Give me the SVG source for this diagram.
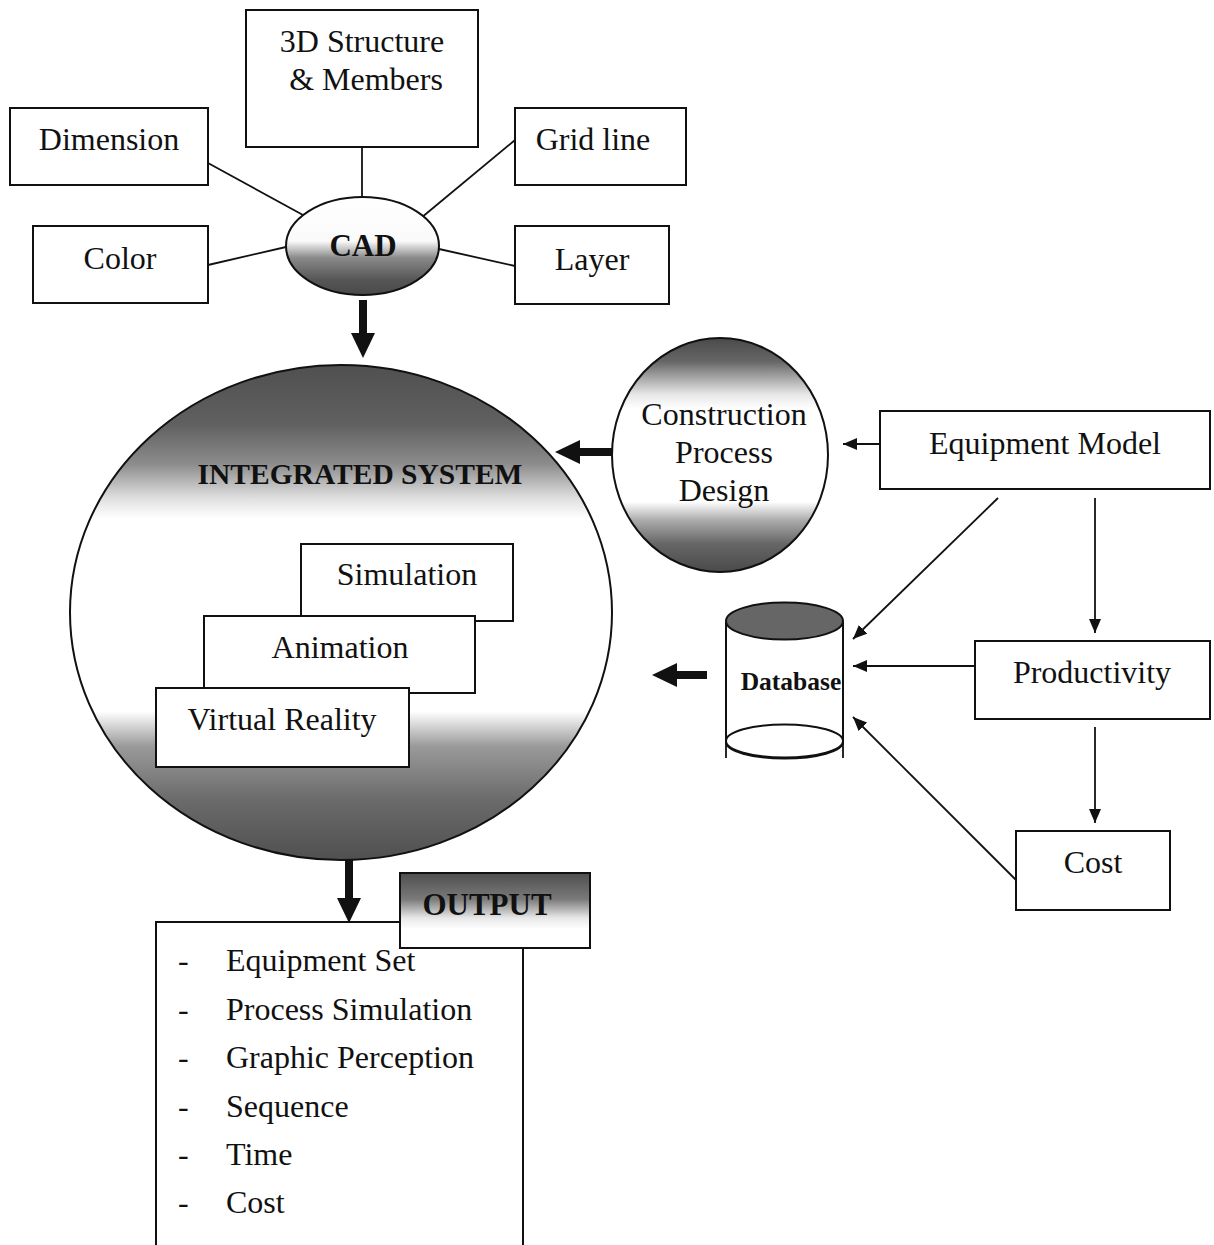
<svg xmlns="http://www.w3.org/2000/svg" width="1214" height="1245" viewBox="0 0 1214 1245">
<defs>
<linearGradient id="gCad" x1="0" y1="0" x2="0" y2="1">
<stop offset="0" stop-color="#fff"/><stop offset="0.45" stop-color="#fafafa"/><stop offset="0.62" stop-color="#8a8a8a"/><stop offset="0.85" stop-color="#555"/><stop offset="1" stop-color="#4a4a4a"/>
</linearGradient>
<linearGradient id="gInt" x1="0" y1="0" x2="0" y2="1">
<stop offset="0" stop-color="#505050"/><stop offset="0.12" stop-color="#606060"/><stop offset="0.2" stop-color="#8c8c8c"/><stop offset="0.27" stop-color="#e0e0e0"/><stop offset="0.31" stop-color="#fff"/><stop offset="0.7" stop-color="#fff"/><stop offset="0.77" stop-color="#9a9a9a"/><stop offset="0.88" stop-color="#6a6a6a"/><stop offset="1" stop-color="#505050"/>
</linearGradient>
<linearGradient id="gCpd" x1="0" y1="0" x2="0" y2="1">
<stop offset="0" stop-color="#4a4a4a"/><stop offset="0.1" stop-color="#666"/><stop offset="0.24" stop-color="#e6e6e6"/><stop offset="0.3" stop-color="#fff"/><stop offset="0.7" stop-color="#fff"/><stop offset="0.78" stop-color="#aaa"/><stop offset="0.88" stop-color="#666"/><stop offset="1" stop-color="#4a4a4a"/>
</linearGradient>
<linearGradient id="gOut" x1="0" y1="0" x2="0" y2="1">
<stop offset="0" stop-color="#4e4e4e"/><stop offset="0.35" stop-color="#7a7a7a"/><stop offset="0.6" stop-color="#e8e8e8"/><stop offset="0.75" stop-color="#fff"/><stop offset="1" stop-color="#fff"/>
</linearGradient>
<marker id="thick" markerUnits="userSpaceOnUse" viewBox="0 0 25 24" refX="0" refY="12" markerWidth="25" markerHeight="24" orient="auto">
<path d="M0,0 L25,12 L0,24 Z" fill="#111"/>
</marker>
<marker id="thin" markerUnits="userSpaceOnUse" viewBox="0 0 14 12" refX="14" refY="6" markerWidth="14" markerHeight="12" orient="auto">
<path d="M0,0 L14,6 L0,12 Z" fill="#111"/>
</marker>
<style>
.box{fill:#fff;stroke:#111;stroke-width:2}
.t{font-family:"Liberation Serif","Times New Roman",serif;font-size:32px;fill:#111;text-anchor:middle}
.b{font-family:"Liberation Serif","Times New Roman",serif;font-weight:bold;fill:#111;text-anchor:middle}
.l{font-family:"Liberation Serif","Times New Roman",serif;font-size:32px;fill:#111}
.ln{stroke:#111;stroke-width:1.8;fill:none}
.th{stroke:#111;stroke-width:8;fill:none;marker-end:url(#thick)}
.ar{stroke:#111;stroke-width:1.8;fill:none;marker-end:url(#thin)}
</style>
</defs>
<rect width="1214" height="1245" fill="#fff"/>

<g id="connectors">
<line class="ln" x1="362" y1="147" x2="362" y2="197"/>
<line class="ln" x1="208" y1="163" x2="303" y2="215"/>
<line class="ln" x1="515" y1="140" x2="421" y2="218"/>
<line class="ln" x1="208" y1="265" x2="286" y2="247"/>
<line class="ln" x1="439" y1="249" x2="515" y2="266"/>
<line class="th" x1="363" y1="300" x2="363" y2="333"/>
<line class="th" x1="612" y1="452" x2="580" y2="452"/>
<line class="th" x1="707" y1="675" x2="677" y2="675"/>
<line class="th" x1="349" y1="848" x2="349" y2="898"/>
<line class="ar" x1="880" y1="444" x2="843" y2="444"/>
<line class="ar" x1="998" y1="498" x2="853" y2="639"/>
<line class="ar" x1="1095" y1="498" x2="1095" y2="633"/>
<line class="ar" x1="975" y1="666" x2="853" y2="666"/>
<line class="ar" x1="1095" y1="727" x2="1095" y2="823"/>
<line class="ar" x1="1016" y1="880" x2="853" y2="717"/>
</g>

<g id="n3d"><rect class="box" x="246" y="10" width="232" height="137"/>
<text class="t" x="362" y="52">3D Structure</text><text class="t" x="366" y="90">&amp; Members</text></g>
<g id="nDimension"><rect class="box" x="10" y="108" width="198" height="77"/><text class="t" x="109" y="150">Dimension</text></g>
<g id="nGrid"><rect class="box" x="515" y="108" width="171" height="77"/><text class="t" x="593" y="150">Grid line</text></g>
<g id="nColor"><rect class="box" x="33" y="226" width="175" height="77"/><text class="t" x="120" y="269">Color</text></g>
<g id="nLayer"><rect class="box" x="515" y="226" width="154" height="78"/><text class="t" x="592" y="270">Layer</text></g>
<g id="nCAD"><ellipse cx="362.5" cy="246" rx="76.5" ry="49" fill="url(#gCad)" stroke="#111" stroke-width="2"/>
<text class="b" x="363" y="256" font-size="31">CAD</text></g>

<g id="nIntegrated"><ellipse cx="341" cy="612.5" rx="271" ry="247.5" fill="url(#gInt)" stroke="#111" stroke-width="2"/>
<text class="b" x="360" y="484" font-size="29.5">INTEGRATED SYSTEM</text></g>
<g id="nSimulation"><rect class="box" x="301" y="544" width="212" height="77"/><text class="t" x="407" y="585">Simulation</text></g>
<g id="nAnimation"><rect class="box" x="204" y="616" width="271" height="77"/><text class="t" x="340" y="658">Animation</text></g>
<g id="nVR"><rect class="box" x="156" y="688" width="253" height="79"/><text class="t" x="282" y="730">Virtual Reality</text></g>

<g id="nCPD"><ellipse cx="720" cy="455" rx="108" ry="117" fill="url(#gCpd)" stroke="#111" stroke-width="2"/>
<text class="t" x="724" y="425">Construction</text><text class="t" x="724" y="463">Process</text><text class="t" x="724" y="501">Design</text></g>
<g id="nEquip"><rect class="box" x="880" y="411" width="330" height="78"/><text class="t" x="1045" y="454">Equipment Model</text></g>
<g id="nProd"><rect class="box" x="975" y="641" width="235" height="78"/><text class="t" x="1092" y="683">Productivity</text></g>
<g id="nCost"><rect class="box" x="1016" y="831" width="154" height="79"/><text class="t" x="1093" y="873">Cost</text></g>

<g id="nDatabase">
<path d="M726,622 V742 A58.5,16.5 0 0 0 843,742 V622" fill="#fff" stroke="#111" stroke-width="2"/>
<ellipse cx="784.5" cy="741" rx="58.5" ry="16.5" fill="#fff" stroke="#111" stroke-width="2"/>
<line class="ln" x1="726" y1="741" x2="726" y2="758"/><line class="ln" x1="843" y1="741" x2="843" y2="758"/>
<ellipse cx="784.5" cy="621" rx="58.5" ry="18.5" fill="#666" stroke="#111" stroke-width="2"/>
<text class="b" x="791" y="690" font-size="25.5">Database</text></g>

<g id="nOutputList">
<path d="M156,1246 V922 H523 V1246" fill="#fff" stroke="#111" stroke-width="2"/>
<text class="l" x="178" y="971">-</text><text class="l" x="226" y="971">Equipment Set</text>
<text class="l" x="178" y="1020">-</text><text class="l" x="226" y="1020">Process Simulation</text>
<text class="l" x="178" y="1068">-</text><text class="l" x="226" y="1068">Graphic Perception</text>
<text class="l" x="178" y="1117">-</text><text class="l" x="226" y="1117">Sequence</text>
<text class="l" x="178" y="1165">-</text><text class="l" x="226" y="1165">Time</text>
<text class="l" x="178" y="1213">-</text><text class="l" x="226" y="1213">Cost</text>
</g>
<g id="nOutput"><rect x="400" y="873" width="190" height="75" fill="url(#gOut)" stroke="#111" stroke-width="2"/>
<text class="b" x="487" y="915" font-size="31">OUTPUT</text></g>
</svg>
